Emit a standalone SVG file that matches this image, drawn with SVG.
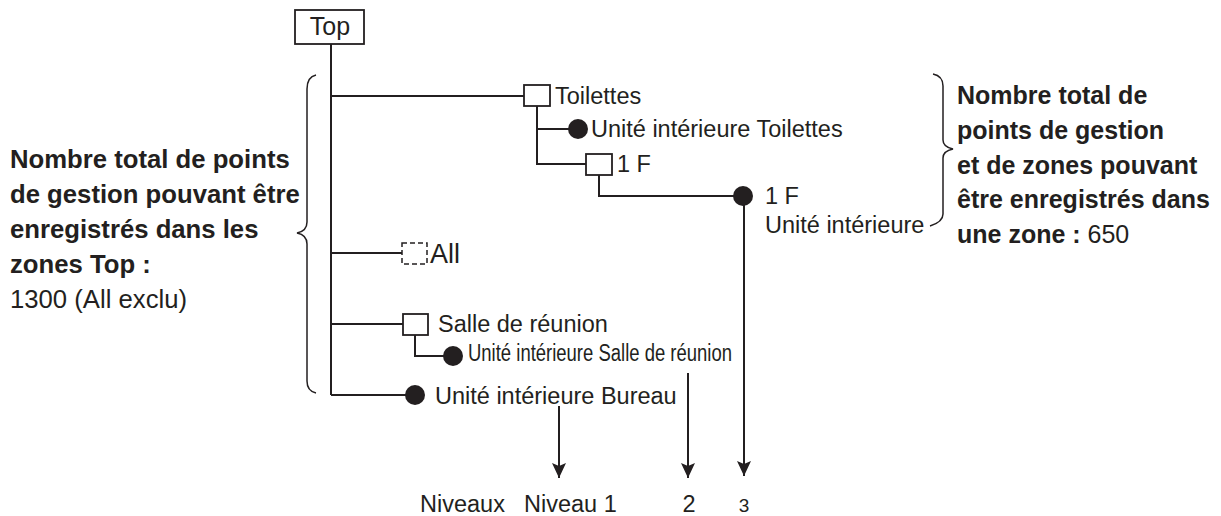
<svg xmlns="http://www.w3.org/2000/svg" width="1221" height="516" viewBox="0 0 1221 516">
<defs>
<style>
.ln{stroke:#231f20;stroke-width:2;fill:none}
.br{stroke:#231f20;stroke-width:1.5;fill:none}
.bx{stroke:#231f20;stroke-width:1.8;fill:#fff}
.dbx{stroke:#231f20;stroke-width:1.5;fill:#fff;stroke-dasharray:5 3}
.dot{fill:#231f20}
.t{font-family:"Liberation Sans",Arial,sans-serif;font-size:23.5px;fill:#231f20}
.b{font-family:"Liberation Sans",Arial,sans-serif;font-size:25px;font-weight:bold;fill:#231f20}
.bl{font-size:25.7px}
.n{font-weight:normal}
</style>
<marker id="ah" viewBox="0 0 15 14" refX="15" refY="7" markerWidth="15" markerHeight="14" markerUnits="userSpaceOnUse" orient="auto">
<path d="M0,0 L15,7 L0,14 L3,7 Z" fill="#231f20"/>
</marker>
</defs>
<g id="connectors">
<path class="ln" d="M331,44 V395"/>
<path class="ln" d="M331,96 H524"/>
<path class="ln" d="M331,253 H402"/>
<path class="ln" d="M331,324 H403"/>
<path class="ln" d="M331,395 H415"/>
<path class="ln" d="M537,106 V164 H586"/>
<path class="ln" d="M537,129 H578"/>
<path class="ln" d="M599,175 V196 H743"/>
<path class="ln" d="M415,335 V356 H453"/>
<path class="ln" d="M744,196 V476" marker-end="url(#ah)"/>
<path class="ln" d="M688,373 V478" marker-end="url(#ah)"/>
<path class="ln" d="M559,406 V478" marker-end="url(#ah)"/>
<path class="br" d="M316,75 Q307,77 307,89 V222 Q307,231 297,233 Q307,235 307,244 V381 Q307,391 316,393"/>
<path class="br" d="M933,74 Q943,76 943,86 V140 Q943,147 953,149 Q943,151 943,158 V214 Q943,222 930,226"/>
</g>
<g id="node-top">
<rect class="bx" x="295" y="10" width="69" height="34"/>
<text class="t" x="330" y="35" text-anchor="middle" style="font-size:25px">Top</text>
</g>
<g id="node-toilettes">
<rect class="bx" x="524" y="85" width="26" height="21"/>
<text class="t" x="555" y="104">Toilettes</text>
</g>
<g id="node-unit-toilettes">
<circle class="dot" cx="578" cy="129" r="10"/>
<text class="t" x="591" y="137">Unité intérieure Toilettes</text>
</g>
<g id="node-1f">
<rect class="bx" x="586" y="154" width="26" height="21"/>
<text class="t" x="617" y="172">1 F</text>
</g>
<g id="node-unit-1f">
<circle class="dot" cx="743" cy="196" r="10"/>
<text class="t" x="765" y="204">1 F</text>
<text class="t" x="765" y="233">Unité intérieure</text>
</g>
<g id="node-all">
<rect class="dbx" x="402" y="243" width="25" height="21"/>
<text class="t" x="430" y="263" style="font-size:27px">All</text>
</g>
<g id="node-salle">
<rect class="bx" x="403" y="314" width="25" height="21"/>
<text class="t" x="438" y="332">Salle de réunion</text>
</g>
<g id="node-unit-salle">
<circle class="dot" cx="453" cy="356" r="10"/>
<text class="t" x="468" y="361" textLength="264" lengthAdjust="spacingAndGlyphs">Unité intérieure Salle de réunion</text>
</g>
<g id="node-unit-bureau">
<circle class="dot" cx="415" cy="395" r="10"/>
<text class="t" x="435" y="404">Unité intérieure Bureau</text>
</g>
<g id="note-left">
<text class="b bl" x="10" y="168">Nombre total de points</text>
<text class="b bl" x="10" y="203">de gestion pouvant être</text>
<text class="b bl" x="10" y="238">enregistrés dans les</text>
<text class="b bl" x="10" y="273">zones Top :</text>
<text class="b bl n" x="10" y="308">1300 (All exclu)</text>
</g>
<g id="note-right">
<text class="b" x="957" y="104">Nombre total de</text>
<text class="b" x="957" y="139">points de gestion</text>
<text class="b" x="957" y="174">et de zones pouvant</text>
<text class="b" x="957" y="208">être enregistrés dans</text>
<text class="b" x="957" y="243">une zone : <tspan class="n">650</tspan></text>
</g>
<g id="levels">
<text class="t" x="420" y="512">Niveaux</text>
<text class="t" x="524" y="512">Niveau 1</text>
<text class="t" x="689" y="512" text-anchor="middle">2</text>
<text class="t" x="744" y="512" text-anchor="middle" style="font-size:19px">3</text>
</g>
</svg>
